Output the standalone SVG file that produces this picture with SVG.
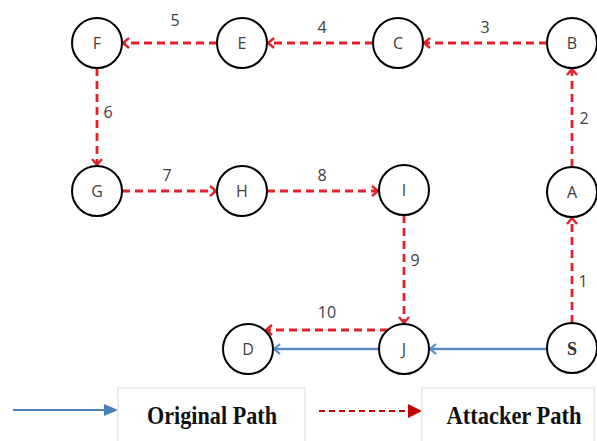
<svg xmlns="http://www.w3.org/2000/svg" width="597" height="441" viewBox="0 0 597 441">
  <style>
    .node circle { fill: #ffffff; stroke: #000000; stroke-width: 2; }
    .node text { font-family: "Open Sans", "Liberation Sans", sans-serif; font-size: 16px; fill: #404040; text-anchor: middle; dominant-baseline: central; }
    .node text.serif { font-family: "Liberation Serif", serif; font-size: 18px; font-weight: bold; fill: #303030; }
    .atk { stroke: #e3212b; stroke-width: 2.8; stroke-dasharray: 8 5; fill: none; marker-end: url(#redV); }
    .orig { stroke: #5a8ac6; stroke-width: 2.4; fill: none; marker-end: url(#blueV); }
    .num { font-family: "Open Sans", "Liberation Sans", sans-serif; font-size: 16px; fill: #404040; text-anchor: middle; dominant-baseline: central; }
    .legbox { fill: #ffffff; stroke: #e2e2e2; stroke-width: 1.2; }
    .legtext { font-family: "Liberation Serif", "Times New Roman", serif; font-size: 25px; font-weight: bold; fill: #111111; text-anchor: middle; }
  </style>
  <defs>
    <marker id="redV" markerUnits="userSpaceOnUse" markerWidth="14" markerHeight="14" refX="9" refY="6" orient="auto">
      <path d="M3,1 L9,6 L3,11" fill="none" stroke="#e3212b" stroke-width="2.4"/>
    </marker>
    <marker id="blueV" markerUnits="userSpaceOnUse" markerWidth="14" markerHeight="14" refX="9" refY="6" orient="auto">
      <path d="M3,1 L9,6 L3,11" fill="none" stroke="#5a8ac6" stroke-width="2.2"/>
    </marker>
  </defs>

  <!-- connectors -->
  <g id="connectors">
    <!-- attacker path -->
    <line class="atk" x1="547" y1="43" x2="424" y2="43"/>
    <line class="atk" x1="373" y1="43" x2="268" y2="43"/>
    <line class="atk" x1="217" y1="43" x2="123" y2="43"/>
    <line class="atk" x1="97" y1="68" x2="97" y2="165"/>
    <line class="atk" x1="122" y1="191" x2="216" y2="191"/>
    <line class="atk" x1="267" y1="191" x2="378" y2="191"/>
    <line class="atk" x1="404" y1="215" x2="404" y2="323"/>
    <line class="atk" x1="388" y1="330" x2="266" y2="330"/>
    <line class="atk" x1="572" y1="323" x2="572" y2="218"/>
    <line class="atk" x1="572" y1="167" x2="572" y2="69"/>
    <!-- original path -->
    <line class="orig" x1="547" y1="349" x2="430" y2="349"/>
    <line class="orig" x1="379" y1="349" x2="274" y2="349"/>
    <!-- step numbers -->
    <text class="num" x="175" y="20">5</text>
    <text class="num" x="322" y="27">4</text>
    <text class="num" x="485" y="27">3</text>
    <text class="num" x="108" y="112">6</text>
    <text class="num" x="584" y="118">2</text>
    <text class="num" x="167" y="175">7</text>
    <text class="num" x="322" y="175">8</text>
    <text class="num" x="415" y="260">9</text>
    <text class="num" x="583" y="281">1</text>
    <text class="num" x="327" y="312">10</text>
  </g>

  <!-- nodes -->
  <g id="node-F" class="node"><circle cx="97" cy="43" r="25"/><text x="97" y="43">F</text></g>
  <g id="node-E" class="node"><circle cx="242" cy="43" r="25"/><text x="242" y="43">E</text></g>
  <g id="node-C" class="node"><circle cx="398" cy="43" r="25"/><text x="398" y="43">C</text></g>
  <g id="node-B" class="node"><circle cx="572" cy="43" r="25"/><text x="572" y="43">B</text></g>
  <g id="node-G" class="node"><circle cx="97" cy="191" r="25"/><text x="97" y="191">G</text></g>
  <g id="node-H" class="node"><circle cx="242" cy="191" r="25"/><text x="242" y="191">H</text></g>
  <g id="node-I" class="node"><circle cx="404" cy="190" r="25"/><text x="404" y="190">I</text></g>
  <g id="node-A" class="node"><circle cx="572" cy="192" r="25"/><text x="572" y="192">A</text></g>
  <g id="node-D" class="node"><circle cx="248" cy="349" r="25"/><text x="248" y="349">D</text></g>
  <g id="node-J" class="node"><circle cx="404" cy="349" r="25"/><text x="404" y="349">J</text></g>
  <g id="node-S" class="node"><circle cx="572" cy="348" r="25"/><text class="serif" x="572" y="349">S</text></g>

  <!-- legend -->
  <g id="legend">
    <line x1="13" y1="410" x2="104" y2="410" stroke="#4a7ebb" stroke-width="2"/>
    <polygon points="104,404 118,410 104,416" fill="#4a7ebb"/>
    <rect class="legbox" x="118" y="388" width="187" height="60"/>
    <text class="legtext" x="212" y="424" textLength="130" lengthAdjust="spacingAndGlyphs">Original Path</text>
    <line x1="319" y1="411" x2="409" y2="411" stroke="#c00000" stroke-width="2" stroke-dasharray="6 4"/>
    <polygon points="408,404 422,411 408,418" fill="#c00000"/>
    <rect class="legbox" x="422" y="388" width="172" height="60"/>
    <text class="legtext" x="514" y="424" textLength="135" lengthAdjust="spacingAndGlyphs">Attacker Path</text>
  </g>
</svg>
